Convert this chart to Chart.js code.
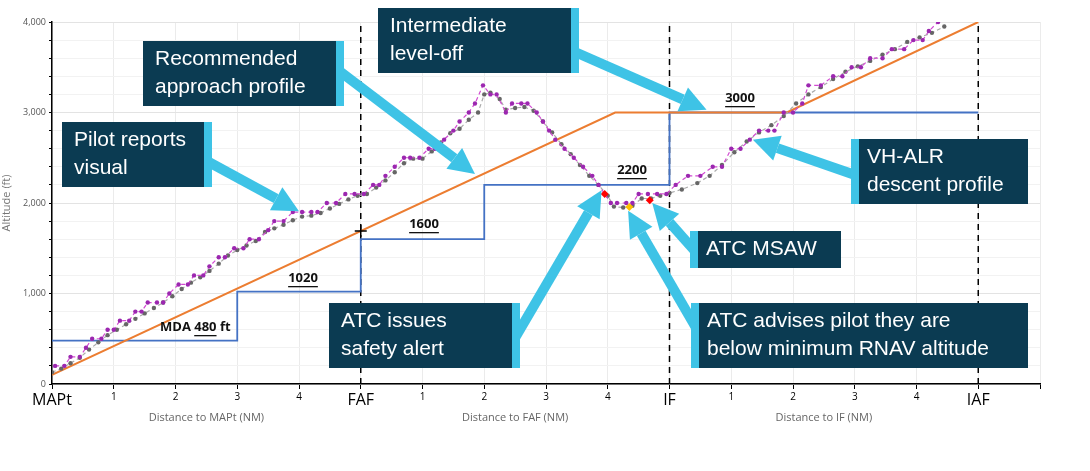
<!DOCTYPE html>
<html>
<head>
<meta charset="utf-8">
<script src="https://cdn.jsdelivr.net/npm/chart.js@4"></script>
<style>
  html, body { margin: 0; padding: 0; background: #fff; }
  #wrap { position: relative; width: 1090px; height: 471px; }
</style>
</head>
<body>
<div id="wrap"><canvas id="c" width="1090" height="471"></canvas></div>
<script>
'use strict';

// distance axis: 0 = MAPt, 5 = FAF, 10 = IF, 15 = IAF
var fixNames = { 0: 'MAPt', 5: 'FAF', 10: 'IF', 15: 'IAF' };
var yTicks = [0, 1000, 2000, 3000, 4000];

// recommended approach profile (orange)
var recX = [0, 9.12, 11.9, 15];
var recY = [100, 3000, 3000, 4000];

// segment minimum altitudes (blue steps)
var stepX = [0, 3, 5, 7, 10, 15];
var stepY = [480, 1020, 1600, 2200, 3000, 3000];

// VH-ALR descent profile, displayed altitude (magenta)
var dispX = [0.05, 0.2, 0.3, 0.45, 0.55, 0.65, 0.8, 0.9, 1.0, 1.1, 1.25, 1.35, 1.45, 1.55, 1.7, 1.8, 1.9, 2.05, 2.2, 2.3, 2.45, 2.55, 2.7, 2.8, 2.95, 3.1, 3.2, 3.35, 3.5, 3.6, 3.75, 3.9, 4.05, 4.2, 4.3, 4.45, 4.6, 4.75, 4.9, 5.05, 5.2, 5.3, 5.4, 5.55, 5.7, 5.8, 5.95, 6.1, 6.2, 6.35, 6.5, 6.6, 6.75, 6.85, 6.98, 7.1, 7.2, 7.35, 7.45, 7.6, 7.7, 7.85, 7.95, 8.05, 8.15, 8.3, 8.45, 8.6, 8.75, 8.85, 8.95, 9.05, 9.15, 9.3, 9.4, 9.5, 9.65, 9.8, 9.95, 10.1, 10.3, 10.5, 10.7, 10.85, 11.0, 11.15, 11.3, 11.45, 11.6, 11.7, 11.85, 12.0, 12.15, 12.25, 12.45, 12.65, 12.8, 12.95, 13.1, 13.25, 13.45, 13.6, 13.8, 13.95, 14.1, 14.2, 14.35];
var dispY = [200, 200, 300, 300, 400, 500, 500, 600, 600, 700, 700, 800, 800, 900, 900, 900, 1000, 1100, 1100, 1200, 1200, 1300, 1400, 1400, 1500, 1500, 1600, 1600, 1700, 1800, 1800, 1900, 1900, 1900, 1900, 2000, 2000, 2100, 2100, 2100, 2200, 2200, 2300, 2400, 2500, 2500, 2500, 2600, 2600, 2700, 2800, 2900, 3000, 3100, 3300, 3200, 3200, 3000, 3100, 3100, 3100, 3000, 2900, 2800, 2700, 2600, 2500, 2400, 2300, 2200, 2100, 2000, 2000, 2000, 2000, 2100, 2100, 2100, 2100, 2200, 2300, 2300, 2400, 2400, 2600, 2600, 2700, 2800, 2800, 2800, 3000, 3000, 3100, 3300, 3300, 3400, 3400, 3500, 3500, 3600, 3600, 3700, 3700, 3800, 3800, 3900, 4000];

// VH-ALR descent profile, smoothed (grey)
var trackX = [0, 0.15, 0.3, 0.45, 0.6, 0.75, 0.9, 1.05, 1.2, 1.35, 1.5, 1.65, 1.8, 1.95, 2.1, 2.25, 2.4, 2.55, 2.7, 2.85, 3.0, 3.15, 3.3, 3.45, 3.6, 3.75, 3.9, 4.05, 4.2, 4.35, 4.5, 4.65, 4.8, 4.95, 5.1, 5.25, 5.4, 5.55, 5.7, 5.85, 6.0, 6.15, 6.3, 6.45, 6.6, 6.75, 6.9, 7.0, 7.1, 7.25, 7.35, 7.5, 7.65, 7.8, 7.95, 8.1, 8.25, 8.4, 8.55, 8.7, 8.85, 9.0, 9.1, 9.25, 9.4, 9.55, 9.7, 9.85, 10.0, 10.2, 10.45, 10.65, 10.85, 11.05, 11.25, 11.45, 11.65, 11.85, 12.05, 12.25, 12.45, 12.65, 12.85, 13.05, 13.25, 13.45, 13.65, 13.85, 14.05, 14.25, 14.45];
var trackY = [130, 170, 230, 290, 380, 460, 540, 600, 660, 720, 780, 840, 900, 970, 1050, 1120, 1180, 1250, 1330, 1420, 1480, 1530, 1580, 1680, 1720, 1760, 1810, 1850, 1860, 1890, 1940, 1990, 2040, 2080, 2100, 2170, 2250, 2340, 2440, 2490, 2490, 2570, 2670, 2770, 2820, 2920, 3000, 3200, 3220, 3150, 3030, 3050, 3060, 3020, 2900, 2780, 2650, 2540, 2420, 2300, 2200, 2080, 1960, 1950, 1970, 2050, 2050, 2080, 2110, 2150, 2220, 2300, 2420, 2560, 2680, 2780, 2860, 2960, 3100, 3200, 3280, 3370, 3450, 3510, 3570, 3640, 3700, 3780, 3830, 3880, 3950];

// ATC events
var alertX = [8.95, 9.68];
var alertY = [2100, 2030];
var adviseX = [9.35];
var adviseY = [1955];

function pts(xs, ys) {
    return xs.map(function(x, i) { return { x: x, y: ys[i] }; });
}

var NAVY = '#0b3b52';
var CYAN = '#3ec3e6';

// callout boxes: [x, y, w, h, stripe side, lines]
var boxes = [
    [62, 122, 150, 65, 'r', ['Pilot reports', 'visual']],
    [143, 41, 201, 65, 'r', ['Recommended', 'approach profile']],
    [378, 8, 201, 65, 'r', ['Intermediate', 'level-off']],
    [329, 303, 191, 65, 'r', ['ATC issues', 'safety alert']],
    [690, 231, 151, 37, 'l', ['ATC MSAW']],
    [691, 303, 337, 65, 'l', ['ATC advises pilot they are', 'below minimum RNAV altitude']],
    [851, 139, 177, 65, 'l', ['VH-ALR', 'descent profile']]
];
// arrows: from pixel -> to data point
var arrows = [
    [205, 160, 4.0, 1910],
    [338, 70, 6.85, 2320],
    [575, 52, 10.6, 3030],
    [515, 338, 8.9, 2140],
    [694, 250, 9.72, 2000],
    [702, 338, 9.33, 1915],
    [858, 176, 11.35, 2700]
];
var stepLabels = [
    [303, 278, '1020'], [424, 224, '1600'], [632, 170, '2200'], [740, 98, '3000']
];

function drawArrow(ctx, x0, y0, x1, y1) {
    var a = Math.atan2(y1 - y0, x1 - x0);
    var head = 26, hw = 13;
    var bx = x1 - head * Math.cos(a), by = y1 - head * Math.sin(a);
    ctx.strokeStyle = CYAN; ctx.fillStyle = CYAN; ctx.lineWidth = 10; ctx.lineCap = 'butt';
    ctx.beginPath(); ctx.moveTo(x0, y0); ctx.lineTo(bx, by); ctx.stroke();
    ctx.beginPath();
    ctx.moveTo(x1, y1);
    ctx.lineTo(bx + hw * Math.sin(a), by - hw * Math.cos(a));
    ctx.lineTo(bx - hw * Math.sin(a), by + hw * Math.cos(a));
    ctx.closePath(); ctx.fill();
}

var overlay = {
    id: 'overlay',
    afterDatasetsDraw: function(chart) {
        var ctx = chart.ctx, xs = chart.scales.x, ys = chart.scales.y;
        ctx.save();
        // FAF cross marker
        var cx = xs.getPixelForValue(5), cy = ys.getPixelForValue(1690);
        ctx.strokeStyle = '#000'; ctx.lineWidth = 1.5;
        ctx.beginPath(); ctx.moveTo(cx - 6, cy); ctx.lineTo(cx + 6, cy); ctx.moveTo(cx, cy - 6); ctx.lineTo(cx, cy + 6); ctx.stroke();
        // step labels
        ctx.fillStyle = '#111'; ctx.font = 'bold 13px "Open Sans", sans-serif'; ctx.textAlign = 'center'; ctx.textBaseline = 'middle';
        stepLabels.forEach(function(s) {
            ctx.fillText(s[2], s[0], s[1]);
            var w = ctx.measureText(s[2]).width;
            ctx.fillRect(s[0] - w / 2, s[1] + 8, w, 1.3);
        });
        ctx.textAlign = 'left';
        var t1 = 'MDA ', t2 = '480', t3 = ' ft';
        var x0 = 160;
        ctx.fillText(t1, x0, 327);
        var w1 = ctx.measureText(t1).width, w2 = ctx.measureText(t2).width;
        ctx.fillText(t2, x0 + w1, 327);
        ctx.fillRect(x0 + w1, 335, w2, 1.3);
        ctx.fillText(t3, x0 + w1 + w2, 327);
        // arrows then boxes
        arrows.forEach(function(a) {
            drawArrow(ctx, a[0], a[1], xs.getPixelForValue(a[2]), ys.getPixelForValue(a[3]));
        });
        boxes.forEach(function(b) {
            ctx.fillStyle = NAVY; ctx.fillRect(b[0], b[1], b[2], b[3]);
            ctx.fillStyle = CYAN;
            if (b[4] === 'r') ctx.fillRect(b[0] + b[2] - 8, b[1], 8, b[3]);
            else ctx.fillRect(b[0], b[1], 8, b[3]);
            ctx.fillStyle = '#fff'; ctx.font = '21px "Liberation Sans", Arial, sans-serif';
            ctx.textAlign = 'left'; ctx.textBaseline = 'middle';
            var lh = 28, n = b[5].length;
            var tx = b[0] + (b[4] === 'r' ? 12 : 16);
            b[5].forEach(function(line, i) {
                ctx.fillText(line, tx, b[1] + b[3] / 2 + (i - (n - 1) / 2) * lh);
            });
        });
        // axis titles
        ctx.fillStyle = '#666'; ctx.font = '11px "Open Sans", sans-serif'; ctx.textAlign = 'center';
        ctx.fillText('Distance to MAPt (NM)', xs.getPixelForValue(2.5), 418);
        ctx.fillText('Distance to FAF (NM)', xs.getPixelForValue(7.5), 418);
        ctx.fillText('Distance to IF (NM)', xs.getPixelForValue(12.5), 418);
        ctx.restore();
    }
};

function vline(x) {
    return {
        data: [{ x: x, y: 0 }, { x: x, y: 4000 }], showLine: true,
        borderColor: '#000', borderWidth: 1.5, borderDash: [6, 5], pointRadius: 0, order: 9
    };
}

new Chart(document.getElementById('c').getContext('2d'), {
    type: 'scatter',
    data: {
        datasets: [
            { data: pts(recX, recY), showLine: true, borderColor: '#ec7d31', borderWidth: 2, pointRadius: 0, order: 5 },
            { data: pts(stepX, stepY), showLine: true, stepped: 'before', borderColor: '#4472c4', borderWidth: 1.8, pointRadius: 0, order: 6 },
            vline(5), vline(10), vline(15),
            { data: pts(trackX, trackY), showLine: true, borderColor: '#aaaaaa', borderWidth: 1.2, borderDash: [4, 3], pointRadius: 2.2, pointBackgroundColor: '#666', pointBorderWidth: 0, order: 4 },
            { data: pts(dispX, dispY), showLine: true, borderColor: '#d24bd2', borderWidth: 1.2, borderDash: [4, 3], pointRadius: 2.2, pointBackgroundColor: '#9c27b0', pointBorderWidth: 0, order: 3 },
            { data: pts(adviseX, adviseY), pointStyle: 'rectRot', pointRadius: 4, pointBackgroundColor: '#ffc000', pointBorderWidth: 0, order: 1 },
            { data: pts(alertX, alertY), pointStyle: 'rectRot', pointRadius: 4, pointBackgroundColor: '#ff0000', pointBorderWidth: 0, order: 1 }
        ]
    },
    options: {
        responsive: false,
        animation: false,
        layout: { padding: { left: 0, right: 50, top: 22, bottom: 0 } },
        plugins: { legend: { display: false }, tooltip: { enabled: false } },
        scales: {
            x: {
                type: 'linear', min: 0, max: 16,
                afterFit: function(s) { s.height = 87; },
                grid: { color: '#ebebeb', drawTicks: true, tickLength: 5, tickColor: '#000' },
                border: { color: '#000', width: 1.5 },
                ticks: {
                    stepSize: 1, autoSkip: false, maxRotation: 0, color: '#000', padding: 2,
                    font: function(c) {
                        var v = c.tick && c.tick.value;
                        return fixNames[v] !== undefined ? { size: 16, family: '"Open Sans", sans-serif' } : { size: 10, family: '"Open Sans", sans-serif' };
                    },
                    callback: function(v) {
                        if (v > 15) return '';
                        if (fixNames[v] !== undefined) return fixNames[v];
                        return String(v % 5);
                    }
                }
            },
            y: {
                min: 0, max: 4000,
                afterFit: function(s) { s.width = 52; },
                grid: { color: function(c) { return yTicks.indexOf(c.tick.value) >= 0 ? '#e3e3e3' : '#f2f2f2'; }, tickLength: 3, tickColor: '#000' },
                border: { color: '#000', width: 1.5 },
                title: { display: true, text: 'Altitude (ft)', color: '#777', font: { size: 11, family: '"Open Sans", sans-serif' }, padding: 0 },
                ticks: {
                    stepSize: 200, autoSkip: false, color: '#555', font: { size: 9, family: '"Open Sans", sans-serif' },
                    callback: function(v) { return yTicks.indexOf(v) >= 0 ? v.toLocaleString('en-US') : ''; }
                }
            }
        }
    },
    plugins: [overlay]
});
</script>
</body>
</html>
